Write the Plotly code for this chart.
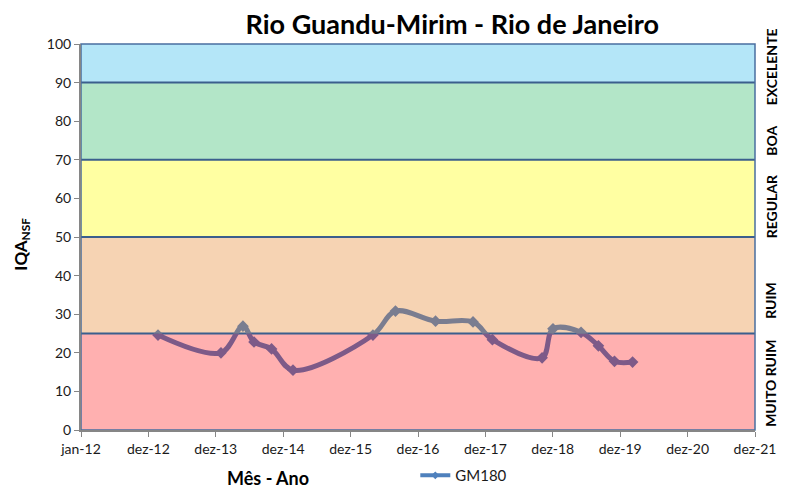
import plotly.graph_objects as go

# ---- data ----
dates = ["2013-02-21", "2014-01-28", "2014-05-27", "2014-07-26", "2014-10-29",
         "2015-02-22", "2016-04-30", "2016-08-30", "2017-04-04", "2017-10-24",
         "2018-02-06", "2018-11-02", "2018-12-31", "2019-06-01", "2019-09-03",
         "2019-11-29", "2020-03-06"]
iqa = [24.6, 20.0, 26.9, 22.8, 21.0, 15.5, 24.6, 30.8, 28.2, 28.0,
       23.4, 18.7, 26.2, 25.3, 21.8, 17.8, 17.6]

tick_vals = ["2012-01-01", "2012-12-31", "2013-12-31", "2014-12-31", "2015-12-31",
             "2016-12-30", "2017-12-30", "2018-12-30", "2019-12-30", "2020-12-29",
             "2021-12-29"]
tick_text = ["jan-12", "dez-12", "dez-13", "dez-14", "dez-15", "dez-16",
             "dez-17", "dez-18", "dez-19", "dez-20", "dez-21"]

band_limits = [0, 25, 50, 70, 90, 100]
band_names = ["MUITO RUIM", "RUIM", "REGULAR", "BOA", "EXCELENTE"]
band_label_y = [12, 33.5, 58, 75, 94]
band_colors = ["#ffb0b0", "#f6d3b3", "#ffffa2", "#b3e6c8", "#b4e6f8"]

FONT = "Lato"
x_range = [tick_vals[0], tick_vals[-1]]

fig = go.Figure()

# line below 25 (purple tint) and above 25 (grey tint) via two clipped sub-areas
fig.add_trace(go.Scatter(x=dates, y=iqa, xaxis="x", yaxis="y2", mode="lines+markers",
                         line=dict(color="#7d5a88", width=5, shape="spline", smoothing=1),
                         marker=dict(symbol="diamond", size=9, color="#7d5a88"),
                         showlegend=False, hoverinfo="skip"))
fig.add_trace(go.Scatter(x=dates, y=iqa, xaxis="x", yaxis="y3", mode="lines+markers",
                         line=dict(color="#7a7d90", width=5, shape="spline", smoothing=1),
                         marker=dict(symbol="diamond", size=9, color="#7a7d90"),
                         showlegend=False, hoverinfo="skip"))
# legend entry
fig.add_trace(go.Scatter(x=[None], y=[None], mode="lines+markers", name="GM180",
                         line=dict(color="#4f81bd", width=4),
                         marker=dict(symbol="diamond", size=6, color="#4f81bd")))

shapes = []
for i in range(len(band_colors)):
    shapes.append(dict(type="rect", xref="paper", yref="y", x0=0, x1=1,
                       y0=band_limits[i], y1=band_limits[i + 1],
                       fillcolor=band_colors[i], line=dict(width=0), layer="below"))
for v in band_limits[1:-1]:
    shapes.append(dict(type="line", xref="paper", yref="y", x0=0, x1=1, y0=v, y1=v,
                       line=dict(color="#3b5f8d", width=2), layer="below"))
shapes.append(dict(type="rect", xref="paper", yref="paper", x0=0, x1=1, y0=0, y1=1,
                   line=dict(color="#4a6fa0", width=1.5), layer="below"))

annotations = []
for name, yv in zip(band_names, band_label_y):
    annotations.append(dict(text="<b>%s</b>" % name, xref="paper", yref="y",
                            x=1.024, y=yv, xanchor="center", yanchor="middle",
                            textangle=-90, showarrow=False,
                            font=dict(family=FONT, size=14, color="#000000")))
annotations.append(dict(text="<b>Mês - Ano</b>", xref="paper", yref="paper",
                        x=0.277, y=-0.124, xanchor="center", yanchor="middle",
                        showarrow=False,
                        font=dict(family=FONT, size=18, color="#000000")))
annotations.append(dict(text="<b>IQA</b><sub><b>NSF</b></sub>", xref="paper", yref="paper",
                        x=-0.088, y=0.482, xanchor="center", yanchor="middle",
                        textangle=-90, showarrow=False,
                        font=dict(family=FONT, size=17, color="#000000")))

# page body adds an 8px offset; figure sized to fit the 786x491 window
fig.update_layout(
    width=778, height=483,
    margin=dict(l=73, r=31, t=36, b=61, autoexpand=False),
    paper_bgcolor="white", plot_bgcolor="rgba(0,0,0,0)",
    title=dict(text="<b>Rio Guandu-Mirim - Rio de Janeiro</b>", x=0.571, xanchor="center",
               y=0.966, yanchor="middle",
               font=dict(family=FONT, size=27, color="#000000")),
    font=dict(family=FONT, size=14, color="#1a1a1a"),
    xaxis=dict(type="date", range=x_range, tickvals=tick_vals, ticktext=tick_text,
               showgrid=False, zeroline=False, showline=True, linecolor="#868686",
               linewidth=1.5, ticks="outside", ticklen=5, tickcolor="#868686",
               anchor="y", automargin=False, tickfont=dict(size=14)),
    yaxis=dict(range=[0, 100], tickvals=[0, 10, 20, 30, 40, 50, 60, 70, 80, 90, 100],
               showgrid=False, zeroline=False, showline=True, linecolor="#868686",
               linewidth=2, ticks="outside", ticklen=5, tickcolor="#868686",
               domain=[0, 1], anchor="x", automargin=False, tickfont=dict(size=14)),
    yaxis2=dict(range=[0, 25], domain=[0, 0.25], anchor="x", visible=False,
                showgrid=False, zeroline=False),
    yaxis3=dict(range=[25, 100], domain=[0.25, 1], anchor="x", visible=False,
                showgrid=False, zeroline=False),
    legend=dict(orientation="h", x=0.496, xanchor="left", y=-0.118, yanchor="middle",
                font=dict(family=FONT, size=15, color="#1a1a1a"),
                bgcolor="rgba(0,0,0,0)"),
    shapes=shapes, annotations=annotations,
)

fig.write_html("out.html")
